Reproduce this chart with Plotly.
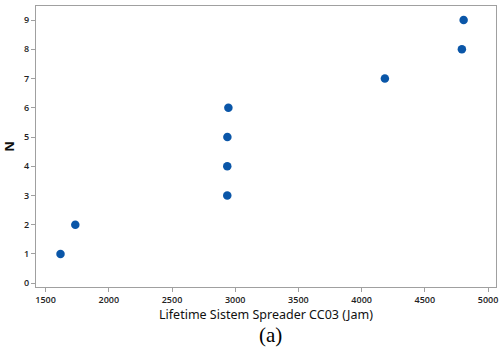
import plotly.graph_objects as go

lifetime = [1618, 1735, 2937, 2937, 2938, 2946, 4184, 4793, 4807]
n_rank = [1, 2, 3, 4, 5, 6, 7, 8, 9]
x_ticks = [1500, 2000, 2500, 3000, 3500, 4000, 4500, 5000]
y_ticks = [0, 1, 2, 3, 4, 5, 6, 7, 8, 9]

fig = go.Figure()
fig.add_trace(go.Scatter(
    x=lifetime, y=n_rank, mode="markers",
    marker=dict(size=8.5, color="#0a56a8"),
    showlegend=False,
))

axis_common = dict(
    showline=True, linecolor="#a0a0a0", linewidth=1, mirror=True,
    ticks="outside", ticklen=4, tickcolor="#a0a0a0",
    showgrid=False, zeroline=False,
    tickfont=dict(family="Open Sans", size=9, color="#222", weight=600),
    ticklabeloverflow="allow",
)

fig.update_layout(
    width=501, height=350,
    margin=dict(l=36, r=3, t=6, b=63),
    plot_bgcolor="white", paper_bgcolor="white",
    xaxis=dict(
        range=[1424, 5063], tickvals=x_ticks,
        title=dict(text="Lifetime Sistem Spreader CC03 (Jam)", standoff=5,
                   font=dict(family="Noto Sans", size=12.5, color="#111")),
        **axis_common,
    ),
    yaxis=dict(
        range=[-0.13, 9.48], tickvals=y_ticks,
        title=dict(text="<b>N</b>", standoff=9,
                   font=dict(family="Noto Sans", size=13, color="#111")),
        **axis_common,
    ),
    annotations=[dict(
        text="(a)", x=0.51, y=-0.172, xref="paper", yref="paper",
        xanchor="center", yanchor="middle", showarrow=False,
        font=dict(family="Liberation Serif", size=21, color="#000"),
    )],
)

fig.write_html("out.html")
